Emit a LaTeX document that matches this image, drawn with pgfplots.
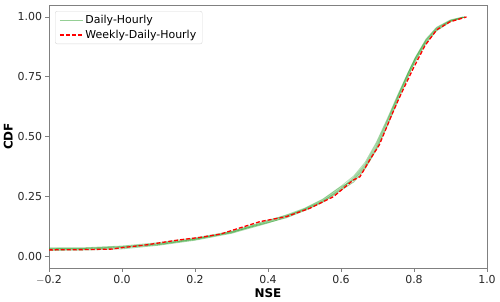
\documentclass[border=0pt]{standalone}
\usepackage{pgfplots}
\pgfplotsset{compat=1.18}
\usepackage{fontspec}
\setmainfont{DejaVu Sans}
\definecolor{tabgreen}{RGB}{44,160,44}
\definecolor{spinegray}{RGB}{128,128,128}
\definecolor{txt}{RGB}{38,38,38}
\begin{document}
\begin{tikzpicture}
\begin{axis}[
  scale only axis,
  width=438bp, height=263bp,
  xmin=-0.2, xmax=1.0, ymin=-0.05, ymax=1.05,
  xtick={-0.2,0,0.2,0.4,0.6,0.8,1.0},
  xticklabels={$-$0.2,0.0,0.2,0.4,0.6,0.8,1.0},
  ytick={0,0.25,0.5,0.75,1.0},
  yticklabels={0.00,0.25,0.50,0.75,1.00},
  /pgf/number format/assume math mode=true,
  tick label style={font=\fontsize{11}{13}\selectfont, text=txt},
  tick align=outside, tick pos=left,
  major tick length=3.5bp,
  every tick/.style={spinegray, line width=0.8bp},
  axis line style={spinegray, line width=0.8bp},
  xlabel={\bfseries NSE}, ylabel={\bfseries CDF},
  label style={font=\fontsize{12}{14}\selectfont},
  xlabel style={yshift=2bp},
  ylabel style={yshift=-2bp},
  clip=true,
  legend cell align=left,
  legend style={at={(0.0137,0.977)}, anchor=north west, draw=gray!30, rounded corners=2pt,
    font=\fontsize{11}{13}\selectfont, inner xsep=4bp, inner ysep=2bp, row sep=1bp},
  legend image code/.code={\draw[#1] (0bp,0bp) -- (23bp,0bp);},
]
\addplot[tabgreen, opacity=0.5, line width=0.8bp] coordinates {
(-0.25,0.030) (-0.10,0.032) (0.00,0.038) (0.10,0.052) (0.20,0.072) (0.30,0.100) (0.40,0.140) (0.45,0.160) (0.50,0.190) (0.55,0.225) (0.60,0.275) (0.635,0.310) (0.666,0.365) (0.697,0.445) (0.727,0.545) (0.756,0.650) (0.785,0.755) (0.804,0.820) (0.833,0.895) (0.862,0.945) (0.90,0.982) (0.94,1.0)};
\addlegendentry{Daily-Hourly}
\addplot[tabgreen, opacity=0.4, line width=0.8bp, forget plot] coordinates {
(-0.25,0.022) (-0.10,0.025) (0.00,0.030) (0.10,0.045) (0.20,0.066) (0.30,0.095) (0.40,0.138) (0.45,0.163) (0.50,0.195) (0.55,0.232) (0.60,0.285) (0.635,0.320) (0.666,0.375) (0.697,0.455) (0.727,0.560) (0.756,0.665) (0.785,0.765) (0.804,0.825) (0.833,0.900) (0.862,0.950) (0.90,0.985) (0.94,1.0)};
\addplot[tabgreen, opacity=0.4, line width=0.8bp, forget plot] coordinates {
(-0.25,0.034) (-0.10,0.035) (0.00,0.042) (0.10,0.056) (0.20,0.076) (0.30,0.103) (0.40,0.145) (0.45,0.168) (0.50,0.192) (0.55,0.228) (0.60,0.282) (0.635,0.330) (0.666,0.385) (0.697,0.470) (0.727,0.570) (0.756,0.672) (0.785,0.770) (0.804,0.830) (0.833,0.905) (0.862,0.955) (0.90,0.986) (0.935,1.0)};
\addplot[tabgreen, opacity=0.4, line width=0.8bp, forget plot] coordinates {
(-0.25,0.027) (-0.10,0.030) (0.00,0.034) (0.10,0.048) (0.20,0.068) (0.30,0.098) (0.40,0.142) (0.45,0.166) (0.50,0.198) (0.55,0.236) (0.60,0.290) (0.635,0.318) (0.666,0.370) (0.697,0.450) (0.727,0.550) (0.756,0.660) (0.785,0.760) (0.804,0.815) (0.833,0.890) (0.862,0.942) (0.90,0.980) (0.94,1.0)};
\addplot[tabgreen, opacity=0.4, line width=0.8bp, forget plot] coordinates {
(-0.25,0.031) (-0.10,0.033) (0.00,0.040) (0.10,0.050) (0.20,0.070) (0.30,0.102) (0.40,0.150) (0.45,0.170) (0.50,0.196) (0.55,0.230) (0.60,0.278) (0.635,0.325) (0.666,0.380) (0.697,0.462) (0.727,0.565) (0.756,0.668) (0.785,0.768) (0.804,0.828) (0.833,0.902) (0.862,0.952) (0.90,0.984) (0.94,1.0)};
\addplot[tabgreen, opacity=0.35, line width=0.8bp, forget plot] coordinates {
(-0.25,0.025) (-0.10,0.028) (0.00,0.036) (0.10,0.047) (0.20,0.071) (0.30,0.097) (0.40,0.147) (0.45,0.172) (0.50,0.200) (0.55,0.238) (0.60,0.292) (0.635,0.335) (0.666,0.392) (0.697,0.476) (0.727,0.575) (0.756,0.676) (0.785,0.772) (0.804,0.832) (0.833,0.908) (0.862,0.957) (0.90,0.988) (0.935,1.0)};
\addplot[red, line width=1.3bp, dash pattern=on 4bp off 2bp] coordinates {
(-0.25,0.025) (-0.10,0.027) (-0.03,0.029) (0.00,0.035) (0.063,0.046) (0.154,0.067) (0.214,0.078) (0.27,0.092) (0.305,0.109) (0.378,0.144) (0.451,0.165) (0.515,0.200) (0.579,0.248) (0.634,0.318) (0.652,0.332) (0.68,0.405) (0.705,0.465) (0.737,0.583) (0.757,0.653) (0.773,0.705) (0.798,0.785) (0.830,0.880) (0.862,0.946) (0.899,0.980) (0.944,1.0)};
\addlegendentry{Weekly-Daily-Hourly}
\end{axis}
\pgfresetboundingbox
\path[use as bounding box] (-49bp,-34bp) rectangle (451bp,268bp);
\end{tikzpicture}
\end{document}
